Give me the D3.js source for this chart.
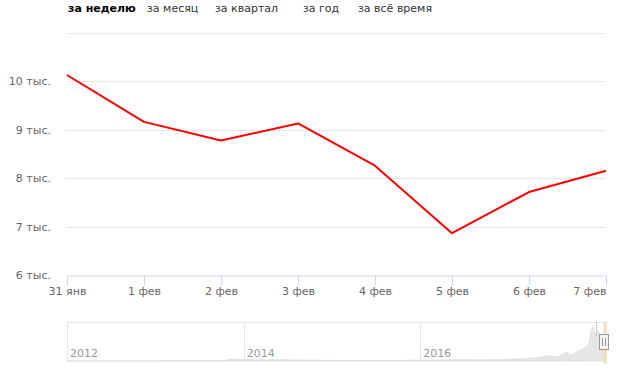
<!DOCTYPE html>
<html>
<head>
  <meta charset="utf-8">
  <title>Курс за неделю</title>
  <script src="https://d3js.org/d3.v7.min.js"></script>
</head>
<style>
  body { margin: 0; background: #fff; }
  svg { font-family: "DejaVu Sans", Verdana, sans-serif; }
</style>
<body>
</body>
<script>

  // main series (one week)
  var days = ["2018-01-31", "2018-02-01", "2018-02-02", "2018-02-03", "2018-02-04", "2018-02-05", "2018-02-06", "2018-02-07"];
  var dayLabels = ["31 янв", "1 фев", "2 фев", "3 фев", "4 фев", "5 фев", "6 фев", "7 фев"];
  var values = [10124, 9157, 8773, 9124, 8254, 6862, 7711, 8150];
  var yTicks = [6000, 7000, 8000, 9000, 10000];
  var yTickLabels = ["6 тыс.", "7 тыс.", "8 тыс.", "9 тыс.", "10 тыс."];

  var buttons = ["за неделю", "за месяц", "за квартал", "за год", "за всё время"];

  // navigator series (whole history)
  var navDates = [
    "2012-01-01", "2012-04-01", "2012-07-01", "2012-10-01",
    "2013-01-01", "2013-04-01", "2013-07-01", "2013-10-01", "2013-11-30", "2013-12-20",
    "2014-01-15", "2014-03-01", "2014-06-01", "2014-09-01", "2014-12-01",
    "2015-03-01", "2015-06-01", "2015-09-01", "2015-12-01",
    "2016-03-01", "2016-06-15", "2016-09-01", "2016-12-01",
    "2017-01-05", "2017-03-01", "2017-05-01", "2017-06-10", "2017-07-15", "2017-08-15",
    "2017-09-01", "2017-09-15", "2017-10-15", "2017-11-10", "2017-11-28", "2017-12-07",
    "2017-12-17", "2017-12-22", "2017-12-27", "2018-01-06", "2018-01-16", "2018-01-28", "2018-02-07"
  ];
  var navValues = [
    5, 5, 8, 11,
    14, 140, 90, 130, 1100, 650,
    850, 560, 640, 480, 350,
    260, 250, 235, 430,
    415, 720, 610, 750,
    1000, 1200, 1900, 2800, 2300, 4200,
    4800, 3300, 5700, 7200, 9800, 16000,
    19400, 14000, 16300, 17000, 11500, 11700, 8150
  ];
  var navYears = ["2012-01-01", "2014-01-01", "2016-01-01"];
  var navYearLabels = ["2012", "2014", "2016"];

  var W = 625, H = 384;
  var parse = d3.timeParse("%Y-%m-%d");

  var svg = d3.select("body").append("svg")
    .attr("width", W)
    .attr("height", H);

  var xScale = d3.scaleTime()
    .domain([parse(days[0]), parse(days[days.length - 1])])
    .range([67, 606]);

  var yScale = d3.scaleLinear()
    .domain([6000, 11000])
    .range([275, 32.5]);

  // range buttons
  var bx = [68, 147, 215, 303, 358];
  svg.selectAll(".btn")
    .data(buttons)
    .enter().append("text")
      .attr("class", "btn")
      .attr("x", function(d, i) { return bx[i]; })
      .attr("y", 12)
      .attr("font-size", "11px")
      .attr("font-weight", function(d, i) { return i === 0 ? "bold" : "normal"; })
      .attr("fill", function(d, i) { return i === 0 ? "#000" : "#333"; })
      .text(function(d) { return d; });

  // grid
  var gridVals = yTicks.slice(1).concat([11000]);
  svg.selectAll(".grid")
    .data(gridVals)
    .enter().append("line")
      .attr("x1", 67).attr("x2", 606)
      .attr("y1", function(d) { return Math.round(yScale(d)) + 0.5; })
      .attr("y2", function(d) { return Math.round(yScale(d)) + 0.5; })
      .attr("stroke", "#e6e6e6");

  // y axis labels
  svg.selectAll(".ylab")
    .data(yTicks)
    .enter().append("text")
      .attr("x", 51)
      .attr("y", function(d) { return yScale(d) + 4; })
      .attr("text-anchor", "end")
      .attr("font-size", "11px")
      .attr("fill", "#666")
      .text(function(d, i) { return yTickLabels[i]; });

  // x axis
  var xAxis = d3.axisBottom(xScale)
    .tickValues(days.map(parse))
    .tickSize(10)
    .tickSizeOuter(0)
    .tickFormat(function(d, i) { return dayLabels[i]; });

  var gx = svg.append("g")
    .attr("transform", "translate(0,275.5)")
    .call(xAxis);
  gx.select(".domain").attr("stroke", "#ccd6eb");
  gx.selectAll(".tick line").attr("stroke", "#ccd6eb");
  gx.selectAll(".tick text")
    .attr("y", 12)
    .attr("font-size", "11px")
    .attr("font-family", "DejaVu Sans, Verdana, sans-serif")
    .attr("fill", "#666");
  gx.selectAll(".tick text").filter(function(d, i) { return i === days.length - 1; })
    .attr("text-anchor", "end")
    .attr("x", 0);

  // line
  var line = d3.line()
    .x(function(d, i) { return xScale(parse(days[i])); })
    .y(function(d) { return yScale(d); });

  svg.append("path")
    .datum(values)
    .attr("d", line)
    .attr("fill", "none")
    .attr("stroke", "#ff0000")
    .attr("stroke-width", 2)
    .attr("stroke-linejoin", "round");

  // navigator
  var navX = d3.scaleTime()
    .domain([parse("2012-01-01"), parse("2018-02-07")])
    .range([67, 606]);
  var navY = d3.scaleLinear()
    .domain([0, 22000])
    .range([361, 322]);

  var nav = svg.append("g");

  nav.append("line")
    .attr("x1", 67).attr("x2", 606).attr("y1", 322.5).attr("y2", 322.5)
    .attr("stroke", "#e6e6e6");

  nav.selectAll(".ngrid")
    .data(navYears)
    .enter().append("line")
      .attr("x1", function(d) { return Math.round(navX(parse(d))) + 0.5; })
      .attr("x2", function(d) { return Math.round(navX(parse(d))) + 0.5; })
      .attr("y1", 322).attr("y2", 361)
      .attr("stroke", "#e6e6e6");

  var area = d3.area()
    .x(function(d, i) { return navX(parse(navDates[i])); })
    .y0(361)
    .y1(function(d) { return navY(d); })
    .curve(d3.curveMonotoneX);

  nav.append("path")
    .datum(navValues)
    .attr("d", area)
    .attr("fill", "#e6e6e6")
    .attr("stroke", "#e0e0e0")
    .attr("stroke-width", 1);

  nav.selectAll(".nlab")
    .data(navYears)
    .enter().append("text")
      .attr("x", function(d) { return navX(parse(d)) + 3; })
      .attr("y", 357)
      .attr("font-size", "11px")
      .attr("fill", "#999")
      .text(function(d, i) { return navYearLabels[i]; });

  // selected range in navigator
  var selX0 = navX(parse(days[0])), selX1 = navX(parse(days[days.length - 1]));
  nav.append("line")
    .attr("x1", 596.5).attr("x2", 596.5).attr("y1", 322).attr("y2", 336)
    .attr("stroke", "#ccc");
  nav.append("rect")
    .attr("x", selX0 - 1).attr("y", 322)
    .attr("width", Math.max(2, selX1 - selX0 + 2)).attr("height", 42)
    .attr("fill", "#f0dfb0")
    .attr("opacity", 0.8);
  nav.append("rect")
    .attr("x", 599.5).attr("y", 334.5).attr("width", 9).attr("height", 15)
    .attr("fill", "#f2f2f2").attr("stroke", "#999");
  nav.selectAll(".grip")
    .data([602.5, 605.5])
    .enter().append("line")
      .attr("x1", function(d) { return d; }).attr("x2", function(d) { return d; })
      .attr("y1", 338).attr("y2", 346)
      .attr("stroke", "#999");

</script>
</html>
